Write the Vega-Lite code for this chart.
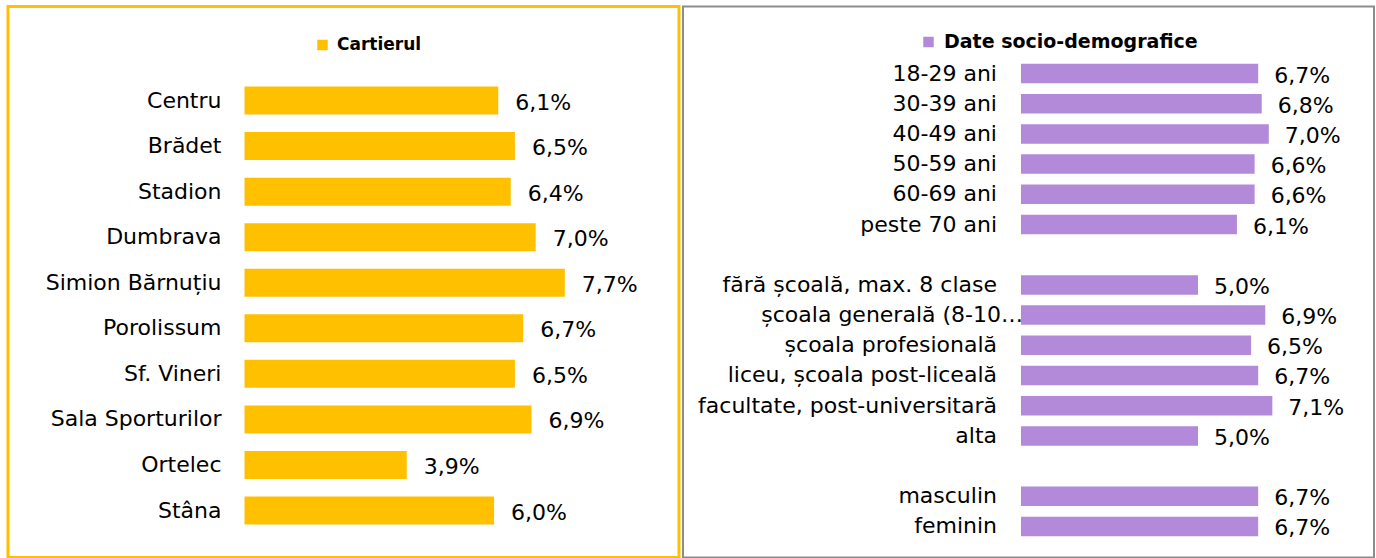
{
  "$schema": "https://vega.github.io/schema/vega-lite/v6.json",
  "padding": {"left": 6, "top": 4.5, "right": 0, "bottom": 0},
  "spacing": 1,
  "config": {
    "font": "DejaVu Sans",
    "locale": {"number": {"decimal": ",", "thousands": ".", "grouping": [3], "currency": ["", " lei"]}},
    "text": {"font": "DejaVu Sans", "color": "#000000"}
  },
  "datasets": {
    "cartier": [
      {"cartier": "Centru", "procent": 0.061, "grupa": "Cartierul"},
      {"cartier": "Brădet", "procent": 0.065, "grupa": "Cartierul"},
      {"cartier": "Stadion", "procent": 0.064, "grupa": "Cartierul"},
      {"cartier": "Dumbrava", "procent": 0.070, "grupa": "Cartierul"},
      {"cartier": "Simion Bărnuțiu", "procent": 0.077, "grupa": "Cartierul"},
      {"cartier": "Porolissum", "procent": 0.067, "grupa": "Cartierul"},
      {"cartier": "Sf. Vineri", "procent": 0.065, "grupa": "Cartierul"},
      {"cartier": "Sala Sporturilor", "procent": 0.069, "grupa": "Cartierul"},
      {"cartier": "Ortelec", "procent": 0.039, "grupa": "Cartierul"},
      {"cartier": "Stâna", "procent": 0.060, "grupa": "Cartierul"}
    ],
    "socio": [
      {"categorie": "18-29 ani", "procent": 0.067, "grupa": "Date socio-demografice"},
      {"categorie": "30-39 ani", "procent": 0.068, "grupa": "Date socio-demografice"},
      {"categorie": "40-49 ani", "procent": 0.070, "grupa": "Date socio-demografice"},
      {"categorie": "50-59 ani", "procent": 0.066, "grupa": "Date socio-demografice"},
      {"categorie": "60-69 ani", "procent": 0.066, "grupa": "Date socio-demografice"},
      {"categorie": "peste 70 ani", "procent": 0.061, "grupa": "Date socio-demografice"},
      {"categorie": "fără școală, max. 8 clase", "procent": 0.050, "grupa": "Date socio-demografice"},
      {"categorie": "școala generală (8-10…", "procent": 0.069, "grupa": "Date socio-demografice"},
      {"categorie": "școala profesională", "procent": 0.065, "grupa": "Date socio-demografice"},
      {"categorie": "liceu, școala post-liceală", "procent": 0.067, "grupa": "Date socio-demografice"},
      {"categorie": "facultate, post-universitară", "procent": 0.071, "grupa": "Date socio-demografice"},
      {"categorie": "alta", "procent": 0.050, "grupa": "Date socio-demografice"},
      {"categorie": "masculin", "procent": 0.067, "grupa": "Date socio-demografice"},
      {"categorie": "feminin", "procent": 0.067, "grupa": "Date socio-demografice"}
    ]
  },
  "hconcat": [
    {
      "width": 671,
      "height": 551,
      "view": {"stroke": "#FFC000", "strokeWidth": 3},
      "data": {"name": "cartier"},
      "encoding": {
        "y": {
          "field": "cartier", "type": "nominal", "sort": null, "axis": null,
          "scale": {
            "domain": ["sus", "Centru", "Brădet", "Stadion", "Dumbrava", "Simion Bărnuțiu", "Porolissum", "Sf. Vineri", "Sala Sporturilor", "Ortelec", "Stâna"],
            "paddingInner": 0.3854, "paddingOuter": 0.74, "align": 0.511
          }
        }
      },
      "layer": [
        {
          "mark": {"type": "bar"},
          "encoding": {
            "x": {"field": "procent", "type": "quantitative", "axis": null, "scale": {"domain": [-0.05685, 0.10445], "nice": false, "zero": false}},
            "x2": {"datum": 0},
            "color": {
              "field": "grupa", "type": "nominal",
              "scale": {"domain": ["Cartierul"], "range": ["#FFC000"]},
              "legend": {"orient": "none", "legendX": 306, "legendY": 30, "title": null, "symbolType": "square", "symbolSize": 110, "symbolStrokeWidth": 0, "labelFontSize": 17, "labelFontWeight": "bold", "labelColor": "#000000", "labelFont": "DejaVu Sans", "labelOffset": 6, "labelLimit": 400}
            }
          }
        },
        {
          "mark": {"type": "text", "align": "right", "baseline": "middle", "dx": -23, "fontSize": 22},
          "encoding": {"x": {"datum": 0}, "text": {"field": "cartier"}}
        },
        {
          "mark": {"type": "text", "align": "left", "baseline": "middle", "dx": 17, "dy": 2, "fontSize": 22},
          "encoding": {"x": {"field": "procent", "type": "quantitative"}, "text": {"field": "procent", "type": "quantitative", "format": ".1%"}}
        }
      ]
    },
    {
      "width": 691,
      "height": 551,
      "view": {"stroke": "#8c8c8c", "strokeWidth": 2},
      "data": {"name": "socio"},
      "encoding": {
        "y": {
          "field": "categorie", "type": "nominal", "sort": null, "axis": null,
          "scale": {
            "domain": ["sus", "18-29 ani", "30-39 ani", "40-49 ani", "50-59 ani", "60-69 ani", "peste 70 ani", "gol1", "fără școală, max. 8 clase", "școala generală (8-10…", "școala profesională", "liceu, școala post-liceală", "facultate, post-universitară", "alta", "gol2", "masculin", "feminin"],
            "paddingInner": 0.354, "paddingOuter": 0.8, "align": 0.56
          }
        }
      },
      "layer": [
        {
          "mark": {"type": "bar"},
          "encoding": {
            "x": {"field": "procent", "type": "quantitative", "axis": null, "scale": {"domain": [-0.09548, 0.09972], "nice": false, "zero": false}},
            "x2": {"datum": 0},
            "color": {
              "field": "grupa", "type": "nominal",
              "scale": {"domain": ["Date socio-demografice"], "range": ["#B389DA"]},
              "legend": {"orient": "none", "legendX": 236, "legendY": 26, "title": null, "symbolType": "square", "symbolSize": 110, "symbolStrokeWidth": 0, "labelFontSize": 19, "labelFontWeight": "bold", "labelColor": "#000000", "labelFont": "DejaVu Sans", "labelOffset": 6, "labelLimit": 400}
            }
          }
        },
        {
          "transform": [{"filter": "datum.categorie !== 'școala generală (8-10…'"}],
          "mark": {"type": "text", "align": "right", "baseline": "middle", "dx": -24, "fontSize": 22},
          "encoding": {"x": {"datum": 0}, "text": {"field": "categorie"}}
        },
        {
          "transform": [{"filter": "datum.categorie === 'școala generală (8-10…'"}],
          "mark": {"type": "text", "align": "right", "baseline": "middle", "dx": 2, "fontSize": 22},
          "encoding": {"x": {"datum": 0}, "text": {"field": "categorie"}}
        },
        {
          "mark": {"type": "text", "align": "left", "baseline": "middle", "dx": 16, "dy": 2, "fontSize": 22},
          "encoding": {"x": {"field": "procent", "type": "quantitative"}, "text": {"field": "procent", "type": "quantitative", "format": ".1%"}}
        }
      ]
    }
  ],
  "resolve": {"scale": {"color": "independent", "x": "independent", "y": "independent"}, "legend": {"color": "independent"}}
}
